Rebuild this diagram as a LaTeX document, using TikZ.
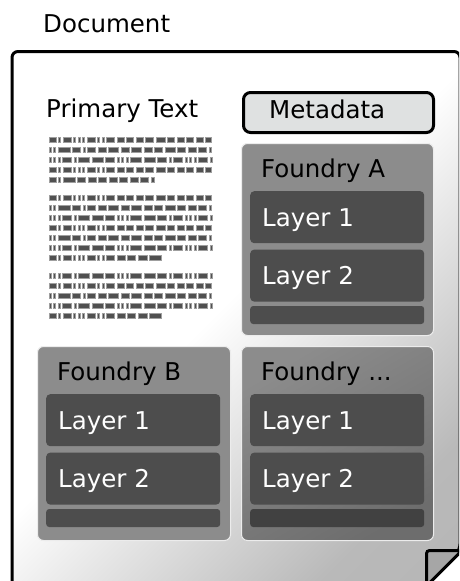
\documentclass[tikz,border=0pt]{standalone}
\usepackage{fontspec}
\setmainfont{DejaVu Sans}
\usetikzlibrary{positioning}

\definecolor{foundrygray}{HTML}{8C8C8C}
\definecolor{layergray}{HTML}{4D4D4D}
\definecolor{metafill}{HTML}{DFE1E1}
\definecolor{foldgray}{HTML}{A6A6A6}
\definecolor{inkgray}{HTML}{505050}

\pgfdeclareverticalshading{pageshade}{100bp}{color(0bp)=(gray!60); color(25bp)=(gray!55);
  color(52bp)=(white); color(100bp)=(white)}

% one line of placeholder words: x, y, list of word widths
\newcommand{\wordline}[3]{%
  \xdef\lnx{#1}%
  \foreach \w in #3 {%
    \filldraw[fill=inkgray, draw=inkgray!55, line width=0.7pt] (\lnx,#2) rectangle ++(\w,5);
    \pgfmathsetmacro\lnnext{\lnx+\w+2.5}%
    \xdef\lnx{\lnnext}%
  }}
\def\patA{7,2,8,2,2,2,8,2,2,8,7,7,7,8,9,7,7,7,7,6}
\def\patB{2,2,12,8,2,8,8,10,8,10,8,8,10,8,8,8,2}
\def\patC{2,2,2,9,2,11,11,9,2,2,2,11,11,9,2,9,2,2,2,9,2}
\def\patS{7,2,12,8,8,8,8,8,8,8,3}
\def\patT{7,2,8,2,2,2,8,2,2,8,8,8,9,12}

\begin{document}
\begin{tikzpicture}[x=1pt, y=-1pt,
    lbl/.style={anchor=base west, inner sep=0pt, font=\fontsize{24.5}{28}\selectfont},
    foundrybox/.style={anchor=north west, fill=foundrygray, draw=white!85!gray, line width=1pt,
      rounded corners=6pt, minimum width=192pt, minimum height=194pt, inner sep=0pt},
    layerbox/.style={fill=layergray, rounded corners=4pt, minimum width=174pt,
      minimum height=52pt, inner sep=0pt},
    barbox/.style={fill=layergray, rounded corners=3pt, minimum width=174pt,
      minimum height=18pt, inner sep=0pt},
  ]
    \useasboundingbox (0,0) rectangle (459,581);
    \clip (0,0) rectangle (459,581);

    % page with folded corner
    \draw[line width=3pt, rounded corners=6pt, shading=pageshade, shading angle=45]
      (12,590) -- (12,51.5) -- (460,51.5) -- (460,550) -- (425,585) -- (425,590) -- cycle;
    \draw[line width=3pt, fill=foldgray, rounded corners=3pt] (426.5,550.5) -- (462,550.5) -- (426.5,586) -- cycle;

    \node[lbl] (doc) at (43,32) {Document};
    \node[lbl] (primary) at (46,117) {Primary Text};

    % primary text placeholder
    \wordline{49}{137}{\patA}
    \wordline{49}{147}{\patB}
    \wordline{49}{157}{\patC}
    \wordline{49}{167}{\patA}
    \wordline{49}{177}{\patS}

    \wordline{49}{195}{\patA}
    \wordline{49}{205}{\patB}
    \wordline{49}{215}{\patC}
    \wordline{49}{225}{\patA}
    \wordline{49}{235}{\patB}
    \wordline{49}{245}{\patC}
    \wordline{49}{255}{\patT}

    \wordline{49}{273}{\patC}
    \wordline{49}{283}{\patA}
    \wordline{49}{293}{\patB}
    \wordline{49}{303}{\patC}
    \wordline{49}{313}{\patT}

    % metadata
    \node[anchor=north west, fill=metafill, draw=black, line width=3pt, rounded corners=7pt,
      minimum width=190pt, minimum height=40pt, inner sep=0pt] (meta) at (242,91) {};
    \node[lbl] (metatext) at ([xshift=27pt, yshift=-27pt]meta.north west) {Metadata};

    % foundry A
    \node[foundrybox, minimum height=192pt] (fa) at (241,143) {};
    \node[lbl] (fatitle) at ([xshift=20pt, yshift=-34pt]fa.north west) {Foundry A};
    \node[layerbox, anchor=north west] (fa1) at ([xshift=9pt, yshift=-48pt]fa.north west) {};
    \node[layerbox, below=6pt of fa1] (fa2) {};
    \node[barbox, below=4pt of fa2] (fa3) {};
    \node[lbl, white] at ([xshift=12pt, yshift=-35pt]fa1.north west) {Layer 1};
    \node[lbl, white] at ([xshift=12pt, yshift=-35pt]fa2.north west) {Layer 2};

    % foundry B
    \node[foundrybox, minimum width=193pt] (fb) at (37,346) {};
    \node[lbl] (fbtitle) at ([xshift=20pt, yshift=-34pt]fb.north west) {Foundry B};
    \node[layerbox, anchor=north west] (fb1) at ([xshift=9pt, yshift=-48pt]fb.north west) {};
    \node[layerbox, below=6pt of fb1] (fb2) {};
    \node[barbox, below=4pt of fb2] (fb3) {};
    \node[lbl, white] at ([xshift=12pt, yshift=-35pt]fb1.north west) {Layer 1};
    \node[lbl, white] at ([xshift=12pt, yshift=-35pt]fb2.north west) {Layer 2};

    % further foundries
    \node[foundrybox, top color=foundrygray, middle color=foundrygray,
      bottom color=foundrygray!78!black, shading angle=30] (fn) at (241,346) {};
    \node[lbl] (fntitle) at ([xshift=20pt, yshift=-34pt]fn.north west) {Foundry ...};
    \node[layerbox, anchor=north west] (fn1) at ([xshift=9pt, yshift=-48pt]fn.north west) {};
    \node[layerbox, below=6pt of fn1] (fn2) {};
    \node[barbox, fill=layergray!85!black, below=4pt of fn2] (fn3) {};
    \node[lbl, white] at ([xshift=12pt, yshift=-35pt]fn1.north west) {Layer 1};
    \node[lbl, white] at ([xshift=12pt, yshift=-35pt]fn2.north west) {Layer 2};
\end{tikzpicture}
\end{document}
